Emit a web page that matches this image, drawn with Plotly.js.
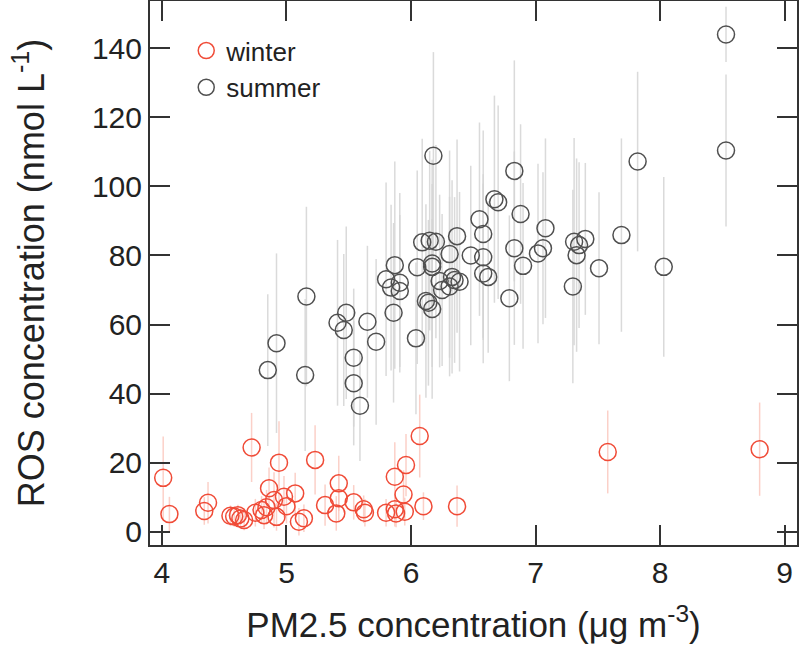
<!DOCTYPE html>
<html>
<head>
<meta charset="utf-8">
<script src="https://cdn.plot.ly/plotly-3.0.1.min.js"></script>
<style>html,body{margin:0;padding:0;background:#fff;}#chart{width:800px;height:652px;}</style>
</head>
<body>
<div id="chart"></div>
<script>
// Winter series
const winterX = [4.01,4.06,4.34,4.37,4.55,4.58,4.61,4.66,4.63,4.72,4.75,4.80,4.82,4.84,4.86,4.90,4.92,4.94,4.98,5.00,5.07,5.10,5.14,5.23,5.31,5.40,5.42,5.42,5.54,5.62,5.63,5.80,5.87,5.87,5.88,5.94,5.95,5.96,6.07,6.10,6.37,7.58,8.80];
const winterY = [15.6,5.1,6.0,8.4,4.6,4.4,4.8,3.4,3.8,24.4,5.5,6.3,4.8,7.1,12.6,9.2,4.3,20.0,10.1,7.4,11.1,2.9,3.9,20.8,7.7,5.3,14.0,9.7,8.5,6.5,5.5,5.5,6.5,15.9,5.3,10.8,5.8,19.3,27.7,7.4,7.4,23.1,23.9];
const winterErr = [12,5,4,6,3,3,3,3,3,10,4,4,4,5,6,8,4,12,6,5,6,4,4,10,6,5,8,7,5,4,4,4,5,10,4,7,4,9,12,4,6,12,13.5];

// Summer series
const summerX = [4.85,4.92,5.15,5.16,5.41,5.46,5.48,5.54,5.54,5.59,5.65,5.72,5.80,5.84,5.86,5.87,5.91,5.91,6.04,6.05,6.09,6.12,6.14,6.15,6.17,6.17,6.17,6.18,6.20,6.23,6.25,6.31,6.31,6.33,6.35,6.39,6.37,6.48,6.55,6.58,6.58,6.58,6.62,6.67,6.70,6.79,6.83,6.83,6.88,6.90,7.02,7.06,7.08,7.30,7.31,7.33,7.35,7.40,7.51,7.69,7.82,8.03,8.53,8.53];
const summerY = [46.8,54.6,45.4,68.1,60.5,58.4,63.4,50.4,43.0,36.5,60.8,55.0,73.1,70.7,63.4,77.2,72.1,69.7,56.0,76.6,83.8,66.8,66.3,84.3,77.7,76.7,64.5,108.9,84.0,72.6,70.0,80.4,71.0,73.8,72.9,72.4,85.6,80.0,90.5,86.2,79.5,74.8,73.8,96.3,95.4,67.6,104.5,82.1,92.0,77.0,80.6,82.1,87.9,71.0,84.0,80.1,83.0,84.8,76.3,85.9,107.2,76.7,110.4,144.0];
const summerErr = [22,26,22,26,24,22,25,20,18,16,22,24,28,24,26,30,26,22,22,28,30,28,24,26,30,24,26,30,28,25,22,30,26,28,24,26,28,26,28,30,24,26,22,30,28,24,32,28,26,24,26,22,26,28,30,28,24,22,22,28,26,26,22,8];

const seriesNames = ['winter','summer'];
const xTickVals = [4,5,6,7,8,9];
const yTickVals = [0,20,40,60,80,100,120,140];

const FONT = 'Liberation Sans, Arial, Helvetica, sans-serif';

const traces = [
  {
    x: winterX, y: winterY, name: seriesNames[0], type: 'scatter', mode: 'markers',
    error_y: {type: 'data', array: winterErr, visible: true, color: 'rgba(250,200,190,0.85)', thickness: 1.5, width: 0},
    marker: {symbol: 'circle-open', size: 17, color: 'rgb(240,75,55)', line: {width: 1.5, color: 'rgb(240,75,55)'}}
  },
  {
    x: summerX, y: summerY, name: seriesNames[1], type: 'scatter', mode: 'markers',
    error_y: {type: 'data', array: summerErr, visible: true, color: 'rgba(212,212,212,0.85)', thickness: 1.5, width: 0},
    marker: {symbol: 'circle-open', size: 17, color: 'rgb(80,80,80)', line: {width: 1.5, color: 'rgb(80,80,80)'}}
  }
];

const axisCommon = {
  showline: true, mirror: 'ticks', linecolor: '#333', linewidth: 2,
  ticks: 'inside', ticklen: 20, tickwidth: 2, tickcolor: '#333',
  showgrid: false, zeroline: false,
  tickfont: {family: FONT, size: 30, color: '#222'}
};

const layout = {
  width: 800, height: 652,
  margin: {l: 150, r: 3, t: 1, b: 107},
  paper_bgcolor: '#fff', plot_bgcolor: '#fff',
  font: {family: FONT, color: '#222'},
  showlegend: true,
  legend: {x: 0.056, y: 0.952, xanchor: 'left', yanchor: 'top', bgcolor: 'rgba(0,0,0,0)',
           font: {family: FONT, size: 26, color: '#222'}, itemwidth: 30, tracegroupgap: 0},
  xaxis: Object.assign({}, axisCommon, {
    range: [3.904, 9.1], tickvals: xTickVals, ticktext: xTickVals.map(String), automargin: false,
    title: {text: 'PM2.5 concentration (μg m<sup>-3</sup>)', font: {family: FONT, size: 35, color: '#222'}, standoff: 24}
  }),
  yaxis: Object.assign({}, axisCommon, {
    range: [-3.85, 153.7], tickvals: yTickVals, ticktext: yTickVals.map(String), automargin: false,
    title: {text: 'ROS concentration (nmol L<sup>-1</sup>)', font: {family: FONT, size: 36, color: '#222'}, standoff: 36}
  })
};

Plotly.newPlot('chart', traces, layout, {displayModeBar: false, staticPlot: true});
</script>
</body>
</html>
